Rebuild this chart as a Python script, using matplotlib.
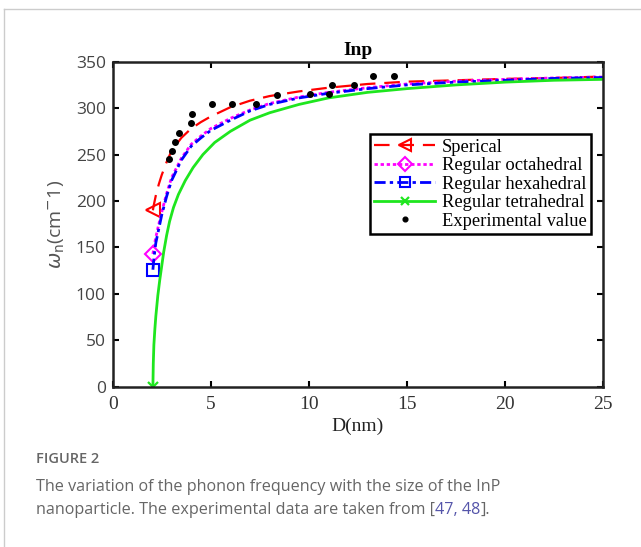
import matplotlib
matplotlib.use("Agg")
import matplotlib.pyplot as plt

# diameter grid (nm)
D = [2.05, 2.1, 2.2, 2.35, 2.5, 2.75, 3.0, 3.5, 4.0, 4.5, 5.0, 6.0, 7.0, 8.0,
     9.5, 11, 13, 15, 17.5, 20, 22.5, 25]
spherical = [190, 196, 206, 218, 228, 242, 254, 268, 278, 285, 291, 301, 308, 313,
             318, 322, 326, 328.5, 330, 331.5, 332.5, 334]
octahedral = [143, 150, 161, 175, 188, 208, 225, 246, 261, 270, 278, 289, 298, 305,
              312, 317, 322, 326, 329, 331, 332.5, 333.5]
hexahedral = [126, 138, 155, 170, 185, 205, 222, 244, 259, 268, 276, 287, 297, 304,
              311, 316, 321, 325, 328, 330, 332, 333]

D_tetra = [2.05, 2.07, 2.1, 2.15, 2.2, 2.3, 2.4, 2.5, 2.6, 2.75, 2.9, 3.1, 3.35, 3.7,
           4.1, 4.6, 5.2, 6.0, 7.0, 8.0, 9.5, 11, 13, 15, 17.5, 20, 22.5, 25]
tetrahedral = [0, 25, 45, 62, 76, 98, 115, 130, 145, 163, 178, 193, 207, 222,
               236, 250, 263, 275, 287, 295, 304, 311, 317, 321, 325, 328, 330, 331]

# experimental points
D_exp = [2.87, 3.01, 3.2, 3.4, 4.0, 4.05, 5.07, 6.1, 7.3, 8.37, 10.07, 11.05, 11.19,
         12.28, 13.25, 14.32]
w_exp = [245, 254, 263, 273, 284, 294, 304, 304, 304, 314, 315.6, 315, 325,
         325, 335, 335]

serif = "Liberation Serif"
sans = "Open Sans"

fig = plt.figure(figsize=(6.41, 5.47), dpi=100)
ax = fig.add_axes([0.1758, 0.2930, 0.765, 0.5942])

ax.plot(D, spherical, color="red", ls=(0, (7, 4)), lw=1.6, marker="<", ms=10,
        mfc="none", mew=1.5, markevery=[0], label="Sperical")
ax.plot(D, octahedral, color="magenta", ls=(0, (1.2, 1)), lw=2.0, marker="D", ms=8,
        mfc="none", mew=1.5, markevery=[0], label="Regular octahedral")
ax.plot(D, hexahedral, color="blue", ls=(0, (4, 1.5, 1.2, 1.5)), lw=2.0, marker="s",
        ms=8.5, mfc="none", mew=1.5, markevery=[0], label="Regular hexahedral")
ax.plot(D_tetra, tetrahedral, color="#1ee61e", ls="-", lw=2.0, marker="x", ms=7,
        mew=1.6, markevery=[0], label="Regular tetrahedral")
ax.plot(D_exp, w_exp, ls="none", marker="o", ms=4, color="black",
        label="Experimental value")

ax.set_xlim(0, 25)
ax.set_ylim(0, 350)
ax.set_xticks([0, 5, 10, 15, 20, 25])
ax.set_yticks(range(0, 351, 50))
ax.tick_params(direction="in", top=True, right=True, length=4, width=1.5)
ax.tick_params(axis="x", pad=7)
ax.tick_params(axis="y", pad=5)
for lab in ax.get_xticklabels():
    lab.set_fontfamily(serif)
    lab.set_fontsize(14)
    lab.set_color("#333333")
for lab in ax.get_yticklabels():
    lab.set_fontfamily(sans)
    lab.set_fontsize(12.5)
    lab.set_color("#444444")
for s in ax.spines.values():
    s.set_linewidth(1.8)
    s.set_color("#222222")

ax.set_title("Inp", fontfamily=serif, fontweight="bold", fontsize=14, pad=5)
ax.set_xlabel("D(nm)", fontfamily=serif, fontsize=14, color="#222222", labelpad=3)
ax.set_ylabel(r"$\omega_{\rm n}$(cm$^{-}$1)", fontfamily=sans, fontsize=14,
              color="#555555", labelpad=6)

leg = ax.legend(loc="upper right", bbox_to_anchor=(0.9755, 0.7775),
                prop={"family": serif, "size": 13.3}, fancybox=False, framealpha=1,
                edgecolor="black", borderpad=0.25, labelspacing=0.08,
                handlelength=3.3, handletextpad=0.35, borderaxespad=0,
                markerscale=0.85)
leg.get_frame().set_linewidth(1.8)

# page frame + caption
fig.add_artist(plt.Line2D([0.006, 1.0], [0.984, 0.984], color="#cccccc", lw=1,
                          transform=fig.transFigure))
fig.add_artist(plt.Line2D([0.006, 0.006], [0.0, 0.984], color="#cccccc", lw=1,
                          transform=fig.transFigure))
fig.text(0.056, 1 - 459 / 547, "FIGURE 2", fontfamily=sans, fontsize=10.5,
         fontweight="semibold", color="#666666", va="center")
fig.text(0.056, 1 - 487 / 547, "The variation of the phonon frequency with the size of the InP",
         fontfamily=sans, fontsize=11.6, color="#666666", va="center")
t = fig.text(0.056, 1 - 510 / 547, "nanoparticle. The experimental data are taken from [",
             fontfamily=sans, fontsize=11.6, color="#666666", va="center")
fig.canvas.draw()
bb = t.get_window_extent()
x1 = bb.x1 / fig.bbox.width
t2 = fig.text(x1, 1 - 510 / 547, "47, 48", fontfamily=sans, fontsize=11.6,
              color="#5555aa", va="center")
fig.canvas.draw()
x2 = t2.get_window_extent().x1 / fig.bbox.width
fig.text(x2, 1 - 510 / 547, "].", fontfamily=sans, fontsize=11.6, color="#666666",
         va="center")

plt.savefig("out.png", dpi=100)
